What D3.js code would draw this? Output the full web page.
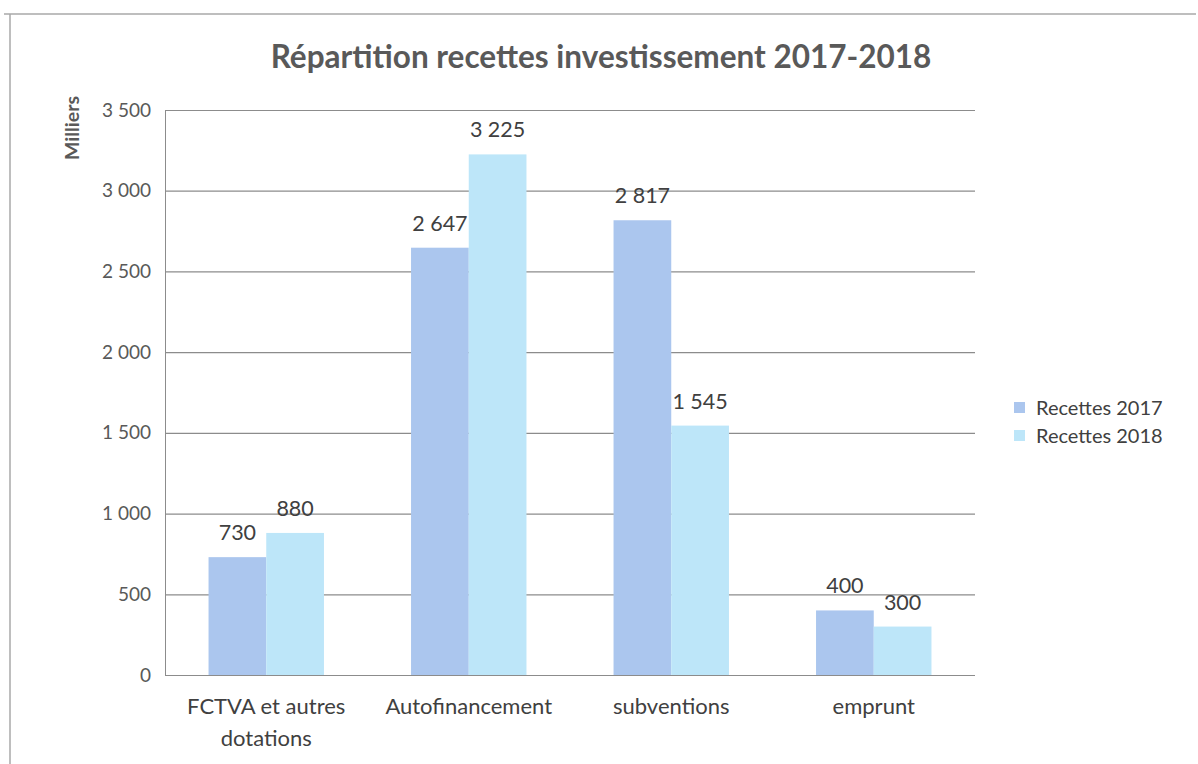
<!DOCTYPE html>
<html lang="fr">
<head>
<meta charset="utf-8">
<script src="https://cdn.jsdelivr.net/npm/d3@7"></script>
<style>
  html, body { margin: 0; padding: 0; background: #fff; }
  svg { display: block; }
  text { font-family: Lato, "Open Sans", sans-serif; }
</style>
</head>
<body>
<svg id="chart" width="1198" height="764"></svg>
<script>
// Investment revenue categories (values in thousands of euros)
const categories = ["FCTVA et autres\ndotations", "Autofinancement", "subventions", "emprunt"];
const seriesNames = ["Recettes 2017", "Recettes 2018"];
const recettes2017 = [730, 2647, 2817, 400];
const recettes2018 = [880, 3225, 1545, 300];
const yTicks = [0, 500, 1000, 1500, 2000, 2500, 3000, 3500];

const colors = ["#abc6ee", "#bde6f9"];
const series = [recettes2017, recettes2018];

const svg = d3.select("#chart");
const W = 1198, H = 764;
const plot = { left: 165, right: 975, top: 110, bottom: 675 };

// chart frame
svg.append("line").attr("x1", 4).attr("x2", 1196).attr("y1", 14).attr("y2", 14)
  .attr("stroke", "#a8a8a8").attr("stroke-width", 1.5);
svg.append("line").attr("x1", 10).attr("x2", 10).attr("y1", 14).attr("y2", H)
  .attr("stroke", "#a8a8a8").attr("stroke-width", 1.5);

// title
svg.append("text")
  .attr("x", 601).attr("y", 68)
  .attr("text-anchor", "middle")
  .attr("font-size", 31.5).attr("font-weight", "bold")
  .attr("fill", "#595959")
  .text("Répartition recettes investissement 2017-2018");

const y = d3.scaleLinear().domain([0, 3500]).range([plot.bottom, plot.top]);
const x0 = d3.scaleBand().domain(d3.range(categories.length))
  .range([plot.left, plot.right]).paddingInner(0.43).paddingOuter(0.215);
const x1 = d3.scaleBand().domain(d3.range(series.length))
  .range([0, x0.bandwidth()]);

const fmt = v => d3.format(",")(v).replace(/,/g, " ");

// gridlines and y axis labels
const yAxis = d3.axisLeft(y).tickValues(yTicks)
  .tickSize(-(plot.right - plot.left)).tickPadding(14).tickFormat(fmt);
const gy = svg.append("g").attr("transform", `translate(${plot.left},0)`).call(yAxis);
gy.select(".domain").attr("stroke", "#8c8c8c");
gy.selectAll(".tick line").attr("stroke", "#8c8c8c").attr("stroke-width", 1.2);
gy.selectAll(".tick text").attr("font-size", 19).attr("fill", "#595959")
  .attr("font-family", "Lato, 'Open Sans', sans-serif");

// y axis title
svg.append("text")
  .attr("transform", "translate(79,128) rotate(-90)")
  .attr("text-anchor", "middle")
  .attr("font-size", 19.5).attr("font-weight", "bold").attr("fill", "#595959")
  .text("Milliers");

// bars
const groups = svg.append("g").selectAll("g").data(categories).join("g")
  .attr("transform", (d, i) => `translate(${x0(i)},0)`);

groups.selectAll("rect")
  .data((d, i) => series.map((s, k) => ({ k, v: s[i] })))
  .join("rect")
  .attr("x", d => x1(d.k))
  .attr("width", x1.bandwidth())
  .attr("y", d => y(d.v))
  .attr("height", d => y(0) - y(d.v))
  .attr("fill", d => colors[d.k]);

groups.selectAll("text.val")
  .data((d, i) => series.map((s, k) => ({ k, v: s[i] })))
  .join("text")
  .attr("class", "val")
  .attr("x", d => x1(d.k) + x1.bandwidth() / 2)
  .attr("y", d => y(d.v) - 17)
  .attr("text-anchor", "middle")
  .attr("font-size", 21.5).attr("fill", "#404040")
  .text(d => fmt(d.v));

// category labels
const cat = svg.append("g").selectAll("text").data(categories).join("text")
  .attr("x", (d, i) => x0(i) + x0.bandwidth() / 2)
  .attr("y", 714)
  .attr("text-anchor", "middle")
  .attr("font-size", 22).attr("fill", "#404040");
cat.selectAll("tspan").data(d => d.split("\n")).join("tspan")
  .attr("x", function () { return d3.select(this.parentNode).attr("x"); })
  .attr("dy", (d, j) => j === 0 ? 0 : 32)
  .text(d => d);

// legend
const legend = svg.append("g").selectAll("g").data(seriesNames).join("g")
  .attr("transform", (d, i) => `translate(1014,${408 + i * 28})`);
legend.append("rect").attr("x", 0).attr("y", -6).attr("width", 11).attr("height", 11)
  .attr("fill", (d, i) => colors[i]);
legend.append("text").attr("x", 22).attr("y", 7)
  .attr("font-size", 20).attr("fill", "#404040")
  .text(d => d);
</script>
</body>
</html>
